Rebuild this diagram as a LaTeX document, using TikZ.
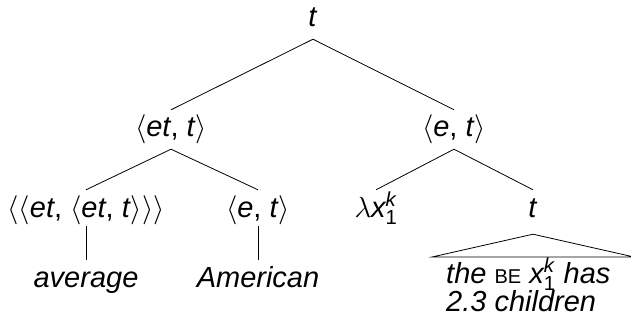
\RequirePackage{fix-cm}
\documentclass[tikz,border=0pt]{standalone}
\usepackage{amsmath}
\usepackage{fontspec}
\setmainfont{Liberation Sans}
\newcommand\myla{$\langle$}
\newcommand\myra{$\rangle$}
\tikzset{
  lab/.style={anchor=base, text height=22pt, text depth=7pt, inner sep=5pt},
  edge/.style={line width=0.8pt, black}
}
\begin{document}
\begin{tikzpicture}[x=1pt, y=-1pt, font=\fontsize{29}{26}\selectfont]
\useasboundingbox (0,0) rectangle (631,323);
% nodes
\node[lab] (root) at (313,27) {\textit{t}};
\node[lab] (l2a) at (171,137) {\myla\textit{et}, \textit{t}\myra};
\node[lab] (l2b) at (454,137) {\myla\textit{e}, \textit{t}\myra};
\node[lab] (l3a) at (86,217) {\myla\myla\textit{et}, \myla\textit{et}, \textit{t}\myra\myra\myra};
\node[lab] (l3b) at (258,217) {\myla\textit{e}, \textit{t}\myra};
\node[lab] (l3c) at (376,217) {$\lambda\textit{x}^{\textit{k}}_{\text{1}}$};
\node[lab] (l3d) at (533,217) {\textit{t}};
\node[lab] (avg) at (86,287) {\textit{average}};
\node[lab] (ame) at (258,287) {\textit{American}};
\node[anchor=base west, inner sep=0pt] (txt) at (446,283)
  {\begin{tabular}[t]{@{}l@{}}\textit{the} {\fontsize{20}{20}\selectfont BE} \smash{$\textit{x}^{\textit{k}}_{\text{1}}$}\ \textit{has}\\ \textit{2.3 children}\end{tabular}};
\coordinate (bl) at (432,257);
\coordinate (br) at (634,257);
% edges
\draw[edge] (root.south) -- (l2a.north);
\draw[edge] (root.south) -- (l2b.north);
\draw[edge] (l2a.south) -- (l3a.north);
\draw[edge] (l2a.south) -- (l3b.north);
\draw[edge] (l2b.south) -- (l3c.north);
\draw[edge] (l2b.south) -- (l3d.north);
\draw[edge] ([yshift=3pt]l3a.south) -- (avg.north);
\draw[edge] ([yshift=3pt]l3b.south) -- (ame.north);
\draw[edge] ([yshift=-5pt]l3d.south) -- (bl) -- (br) -- cycle;
\end{tikzpicture}
\end{document}
